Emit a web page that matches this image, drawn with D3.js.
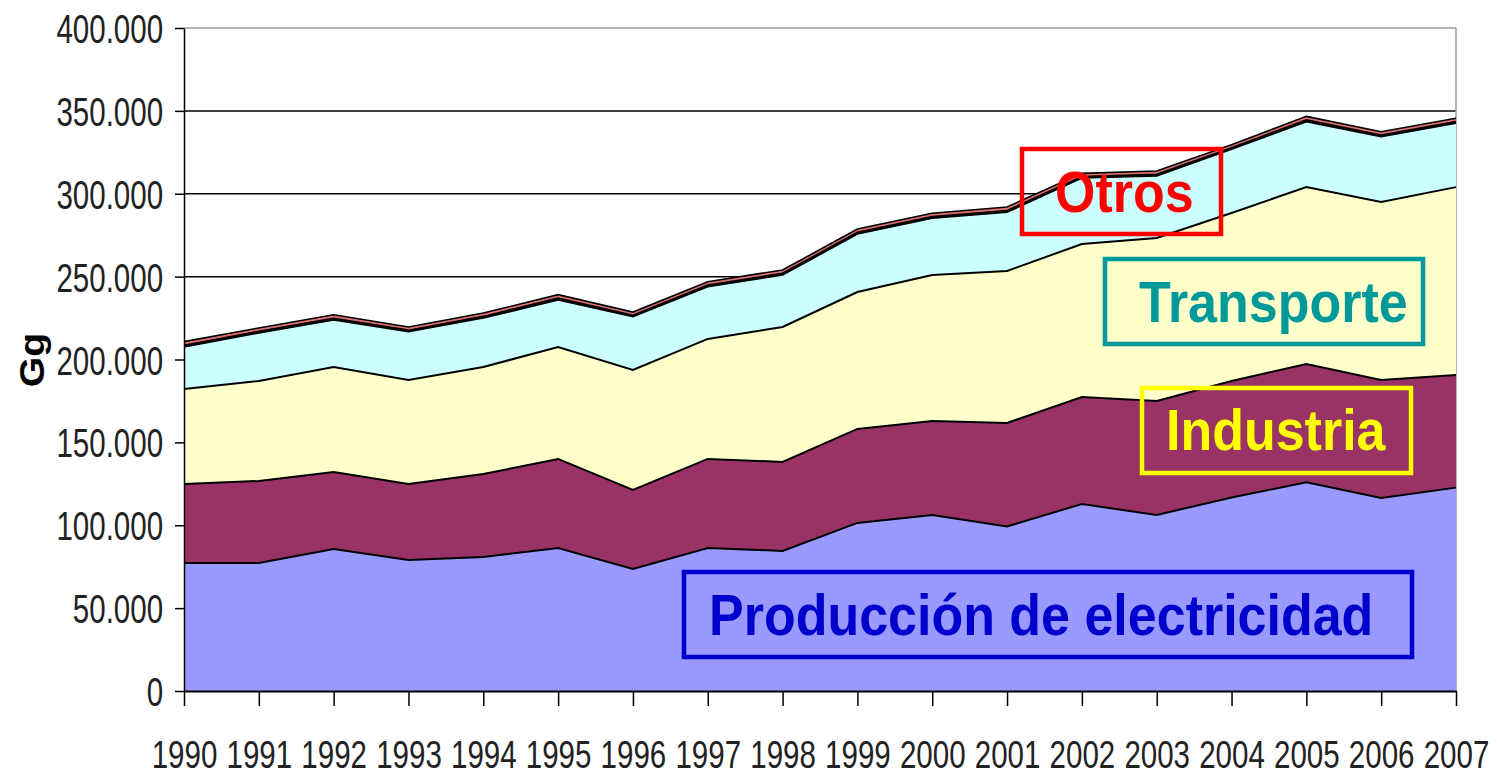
<!DOCTYPE html>
<html>
<head>
<meta charset="utf-8">
<script src="https://cdn.jsdelivr.net/npm/d3@7"></script>
<style>
  body { margin: 0; background: #fff; }
  svg { display: block; }
</style>
</head>
<body>
<div id="chart"></div>
<script>
// años del eje x
var years = [1990, 1991, 1992, 1993, 1994, 1995, 1996, 1997, 1998, 1999,
             2000, 2001, 2002, 2003, 2004, 2005, 2006, 2007];
// series apiladas (Gg), de abajo hacia arriba
var electricidad = [77200, 77200, 85700, 79000, 80800, 86300, 73600, 86300, 84500, 101400,
                    106200, 99300, 112800, 106200, 116800, 125900, 116400, 122700];
var industria = [47700, 49500, 46400, 45900, 50100, 53700, 47700, 53700, 53700, 56700,
                 56700, 62400, 64600, 68800, 70200, 71400, 71200, 67900];
var transporte = [57300, 60300, 63400, 62700, 64600, 67500, 72400, 72400, 81400, 82600,
                  88100, 91700, 92300, 98300, 101400, 106700, 107400, 113400];
var otros = [25300, 29000, 28300, 29200, 29500, 28400, 32100, 31500, 31400, 35000,
             34200, 35400, 39800, 37400, 38400, 39500, 39400, 38500];
var fina1 = [1100, 1000, 1100, 900, 1000, 1100, 900, 1000, 1000, 1000,
             1000, 1100, 900, 1000, 900, 1100, 1000, 1000];
var fina2 = [2200, 2000, 2100, 1900, 2000, 2100, 1900, 2000, 2000, 2000,
             2000, 2100, 1900, 2000, 1900, 2100, 2000, 2000];
var yTicks = [0, 50000, 100000, 150000, 200000, 250000, 300000, 350000, 400000];

var keys = ["electricidad", "industria", "transporte", "otros", "fina1", "fina2"];
var fills = ["#9999ff", "#993366", "#ffffcc", "#ccffff", "#111111", "#e07070"];

var table = years.map(function(yr, i) {
  return { year: yr, electricidad: electricidad[i], industria: industria[i],
           transporte: transporte[i], otros: otros[i], fina1: fina1[i], fina2: fina2[i] };
});

var w = 1497, h = 776;
var svg = d3.select("#chart").append("svg").attr("width", w).attr("height", h);

var x = d3.scaleLinear().domain([1990, 2007]).range([184, 1456]);
var y = d3.scaleLinear().domain([0, 400000]).range([691, 28]);

var font = "'Liberation Sans', Arial, sans-serif";

// líneas de la cuadrícula
svg.append("g").selectAll("line")
  .data(yTicks.filter(function(d) { return d > 0; }))
  .enter().append("line")
    .attr("x1", 184).attr("x2", 1456)
    .attr("y1", function(d) { return y(d); })
    .attr("y2", function(d) { return y(d); })
    .attr("stroke", function(d) { return d === 400000 ? "#999" : "#000"; })
    .attr("stroke-width", 1.5);
svg.append("line")
  .attr("x1", 1456).attr("x2", 1456).attr("y1", 28).attr("y2", 691)
  .attr("stroke", "#999").attr("stroke-width", 1.5);

var stack = d3.stack().keys(keys);
var layers = stack(table);

var area = d3.area()
  .x(function(d) { return x(d.data.year); })
  .y0(function(d) { return y(d[0]); })
  .y1(function(d) { return y(d[1]); });
var topLine = d3.line()
  .x(function(d) { return x(d.data.year); })
  .y(function(d) { return y(d[1]); });

svg.append("g").selectAll("path")
  .data(layers)
  .enter().append("path")
    .attr("fill", function(d, i) { return fills[i]; })
    .attr("d", area);

svg.append("g").selectAll("path")
  .data(layers)
  .enter().append("path")
    .attr("fill", "none")
    .attr("stroke", "#000")
    .attr("stroke-width", function(d, i) { return i >= 3 ? 1.6 : 2; })
    .attr("d", topLine);

// ejes
var loc = d3.formatLocale({ decimal: ",", thousands: ".", grouping: [3], currency: ["", ""] });
var fmt = loc.format(",");

var yAxis = svg.append("g")
  .attr("transform", "translate(184,0)")
  .call(d3.axisLeft(y).tickValues(yTicks).tickSize(9).tickSizeOuter(0).tickFormat(fmt));
yAxis.select(".domain").attr("stroke", "#000").attr("stroke-width", 1.5);
yAxis.selectAll(".tick line").attr("stroke", "#000").attr("stroke-width", 1.5);
yAxis.selectAll(".tick text")
  .attr("x", -25.5).attr("dy", "0.36em")
  .attr("transform", "scale(0.82,1.12)")
  .style("font-family", font).style("font-size", "36px").attr("fill", "#222");

var xAxis = svg.append("g")
  .attr("transform", "translate(0,691)")
  .call(d3.axisBottom(x).tickValues(years).tickSize(15).tickSizeOuter(0)
    .tickFormat(function(d) { return String(d); }));
xAxis.select(".domain").attr("stroke", "#000").attr("stroke-width", 2);
xAxis.selectAll(".tick line").attr("stroke", "#000").attr("stroke-width", 1.5);
xAxis.selectAll(".tick text")
  .attr("y", 0).attr("dy", 0)
  .attr("transform", "translate(0,77) scale(0.82,1.1)")
  .style("font-family", font).style("font-size", "36px").attr("fill", "#222");

// título del eje y
svg.append("text")
  .attr("transform", "translate(44,360) scale(1,1.12) rotate(-90)")
  .attr("text-anchor", "middle")
  .style("font-family", font).style("font-size", "35px").style("font-weight", "bold")
  .attr("fill", "#000")
  .text("Gg");

// etiquetas con recuadro
var labels = [
  { text: "Otros", color: "#ff0000", box: [1022, 149, 199, 85], tx: 1055, ty: 212 },
  { text: "Transporte", color: "#009999", box: [1105, 259, 318, 85], tx: 1139, ty: 322 },
  { text: "Industria", color: "#ffff00", box: [1142, 388, 269, 85], tx: 1166, ty: 450 },
  { text: "Producción de electricidad", color: "#0000cc", box: [684, 572, 728, 85], tx: 709, ty: 635 }
];
var lg = svg.append("g").selectAll("g").data(labels).enter().append("g");
lg.append("rect")
  .attr("x", function(d) { return d.box[0]; })
  .attr("y", function(d) { return d.box[1]; })
  .attr("width", function(d) { return d.box[2]; })
  .attr("height", function(d) { return d.box[3]; })
  .attr("fill", "none")
  .attr("stroke", function(d) { return d.color; })
  .attr("stroke-width", 4.5);
lg.append("text")
  .attr("transform", function(d) { return "translate(" + d.tx + "," + d.ty + ") scale(1,1.12)"; })
  .attr("fill", function(d) { return d.color; })
  .style("font-family", font).style("font-size", "52px").style("font-weight", "bold")
  .text(function(d) { return d.text; });
</script>
</body>
</html>
